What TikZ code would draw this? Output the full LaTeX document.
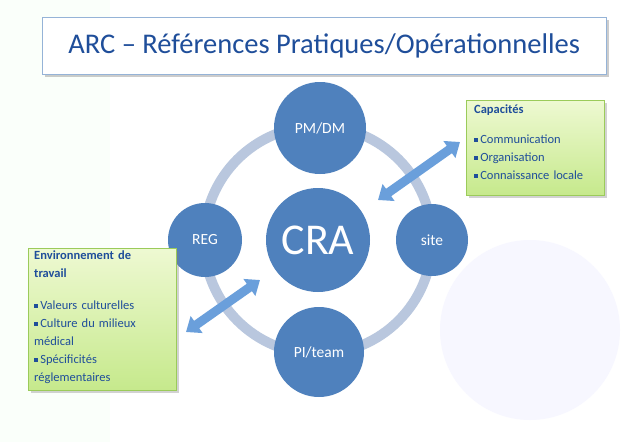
\documentclass[tikz,border=0pt]{standalone}
\usepackage{fontspec}
\setmainfont{Carlito}
\usetikzlibrary{arrows.meta,shadows}
\definecolor{circ}{HTML}{4F81BD}
\definecolor{ring}{HTML}{B9C7DE}
\definecolor{tblue}{HTML}{1F4E9A}
\definecolor{gtop}{HTML}{EEF9D2}
\definecolor{gbot}{HTML}{C6E98C}
\definecolor{gbord}{HTML}{9BCB5A}
\definecolor{arr}{HTML}{6A9FDB}
\newcommand{\bsq}{\raisebox{2pt}{\rule{4pt}{4pt}}\,}
\tikzset{
  x=1pt,y=-1pt,
  bub/.style={circle,fill=circ,text=white,inner sep=0pt,font=\fontsize{15.5}{18}\selectfont},
  gbox/.style={draw=gbord,top color=gtop,bottom color=gbot,drop shadow={opacity=0.35},anchor=north west,inner sep=0pt},
  gtext/.style={text=tblue,align=left,anchor=north west,inner sep=0pt,font=\fontsize{12.5}{18}\selectfont},
  dbl/.style={line width=9pt,draw=arr,{Triangle[width=20pt,length=13pt]}-{Triangle[width=20pt,length=13pt]}}
}
\begin{document}
\begin{tikzpicture}
\useasboundingbox (0,0) rectangle (638,442);
\fill[white] (0,0) rectangle (638,442);
\fill[blue!3] (530,330) circle (90);
\fill[green!2] (0,0) rectangle (110,442);
\node[draw=circ!60,fill=white,drop shadow={opacity=0.4},minimum width=564,minimum height=57,inner sep=0pt,anchor=north west,
  font=\fontsize{28.5}{32}\selectfont,text=tblue] (title) at (42,17) {ARC – Références Pratiques/Opérationnelles};
\draw[ring,line width=10pt] (318,240) circle (114);
\node[bub,minimum size=104] (cra) at (318,240) {\fontsize{44}{48}\selectfont CRA};
\node[bub,minimum size=92] (pm) at (320,128) {PM/DM};
\node[bub,minimum size=72] (site) at (432,240) {site};
\node[bub,minimum size=74] (reg) at (205,240) {REG};
\node[bub,minimum size=90] (pi) at (319,352) {PI/team};
\node[gbox,minimum width=138,minimum height=95] (cap) at (466,100) {};
\node[gtext,text width=130] (capt) at (474,105) {\textbf{Capacités}\\[12pt]
\bsq Communication\\
\bsq Organisation\\
\bsq Connaissance locale};
\node[gbox,minimum width=148,minimum height=142] (env) at (28,248) {};
\node[gtext,text width=142] (envt) at (34,251) {\textbf{Environnement de}\\\textbf{travail}\\[14pt]
\bsq Valeurs culturelles\\
\bsq Culture du milieux\\médical\\
\bsq Spécificités\\réglementaires};
\coordinate (a1) at (378,200); \coordinate (a2) at (460,142);
\coordinate (b1) at (186,332); \coordinate (b2) at (260,280);
\draw[dbl] (a1) -- (a2);
\draw[dbl] (b1) -- (b2);
\end{tikzpicture}
\end{document}
